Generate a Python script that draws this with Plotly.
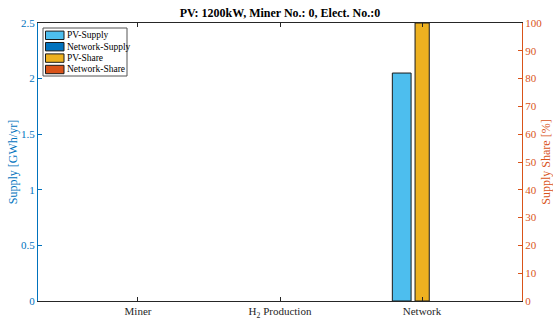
import plotly.graph_objects as go

categories = ["Miner", "H<sub>2</sub> Production", "Network"]
cat_pos = [1, 2, 3]
pv_supply = [0, 0, 2.05]          # GWh/yr
network_supply = [0, 0, 0]        # GWh/yr
pv_share = [0, 0, 100]            # %
network_share = [0, 0, 0]         # %
left_ticks = [0, 0.5, 1, 1.5, 2, 2.5]
right_ticks = list(range(0, 101, 10))
series_names = ["PV-Supply", "Network-Supply", "PV-Share", "Network-Share"]
series_colors = ["#4DBEEE", "#0072BD", "#EDB120", "#D95319"]

FONT = "Liberation Serif, Times New Roman, serif"
BLUE = "#0072BD"
ORANGE = "#D95319"
W, H = 553, 320
L, R, T, B = 38, 31, 23, 19
PW, PH = W - L - R, H - T - B

def px(x):
    return (x - L) / PW

def py(y):
    return (H - B - y) / PH

def edge(vals):
    return dict(color="#1a1a1a", width=[1 if v else 0 for v in vals])

fig = go.Figure()
fig.add_bar(x=cat_pos, y=pv_supply, name=series_names[0],
            marker=dict(color=series_colors[0], line=edge(pv_supply)),
            offset=-0.209, width=0.132, yaxis="y", showlegend=False)
fig.add_bar(x=cat_pos, y=network_supply, name=series_names[1],
            marker=dict(color=series_colors[1], line=edge(network_supply)),
            offset=0.077, width=0.132, yaxis="y", showlegend=False)
fig.add_bar(x=cat_pos, y=pv_share, name=series_names[2],
            marker=dict(color=series_colors[2], line=edge(pv_share)),
            offset=-0.049, width=0.10, yaxis="y2", showlegend=False)
fig.add_bar(x=cat_pos, y=network_share, name=series_names[3],
            marker=dict(color=series_colors[3], line=edge(network_share)),
            offset=0.06, width=0.10, yaxis="y2", showlegend=False)

# Compact MATLAB-style legend drawn with shapes + annotations
shapes = [dict(type="rect", xref="paper", yref="paper", x0=px(43), x1=px(127), y0=py(76), y1=py(28),
               fillcolor="white", line=dict(color="#555555", width=1), layer="above")]
annotations = []
row_centers = [35.3, 46.7, 58.1, 69.5]
for name, col, yc in zip(series_names, series_colors, row_centers):
    shapes.append(dict(type="rect", xref="paper", yref="paper", x0=px(45.5), x1=px(64), y0=py(yc + 4.2),
                       y1=py(yc - 4.2), fillcolor=col, line=dict(color="#1a1a1a", width=1), layer="above"))
    annotations.append(dict(text=name, xref="paper", yref="paper", x=px(65), y=py(yc), xanchor="left",
                            yanchor="middle", showarrow=False,
                            font=dict(family=FONT, size=9.5, color="#000")))

fig.update_layout(
    width=W, height=H,
    margin=dict(l=L, r=R, t=T, b=B),
    plot_bgcolor="white", paper_bgcolor="white",
    barmode="overlay",
    font=dict(family=FONT, size=11, color="#262626"),
    title=dict(text="<b>PV: 1200kW, Miner No.: 0, Elect. No.:0</b>", x=0.5, xanchor="center",
               xref="paper", y=1 - 13/H, yanchor="middle", font=dict(family=FONT, size=12, color="#000")),
    showlegend=False,
    shapes=shapes,
    annotations=annotations,
    xaxis=dict(range=[0.296, 3.704], tickmode="array", tickvals=cat_pos, ticktext=categories,
               ticks="inside", ticklen=4, tickcolor="#262626", showline=True, linecolor="#262626",
               linewidth=1, mirror="ticks", showgrid=False, zeroline=False, automargin=False,
               tickfont=dict(family=FONT, size=11, color="#262626")),
    yaxis=dict(range=[0, 2.5], tickvals=left_ticks, ticks="inside", ticklen=4, tickcolor=BLUE,
               showline=True, linecolor=BLUE, linewidth=1, showgrid=False, zeroline=False,
               automargin=False, tickfont=dict(family=FONT, size=11, color=BLUE),
               title=dict(text="Supply [GWh/yr]", font=dict(family=FONT, size=12, color=BLUE), standoff=0)),
    yaxis2=dict(range=[0, 100], tickvals=right_ticks, overlaying="y", side="right", ticks="inside",
                ticklen=4, tickcolor=ORANGE, showline=True, linecolor=ORANGE, linewidth=1,
                showgrid=False, zeroline=False, automargin=False,
                tickfont=dict(family=FONT, size=11, color=ORANGE),
                title=dict(text="Supply Share [%]", font=dict(family=FONT, size=12, color=ORANGE), standoff=4)),
)

fig.write_html("out.html")
